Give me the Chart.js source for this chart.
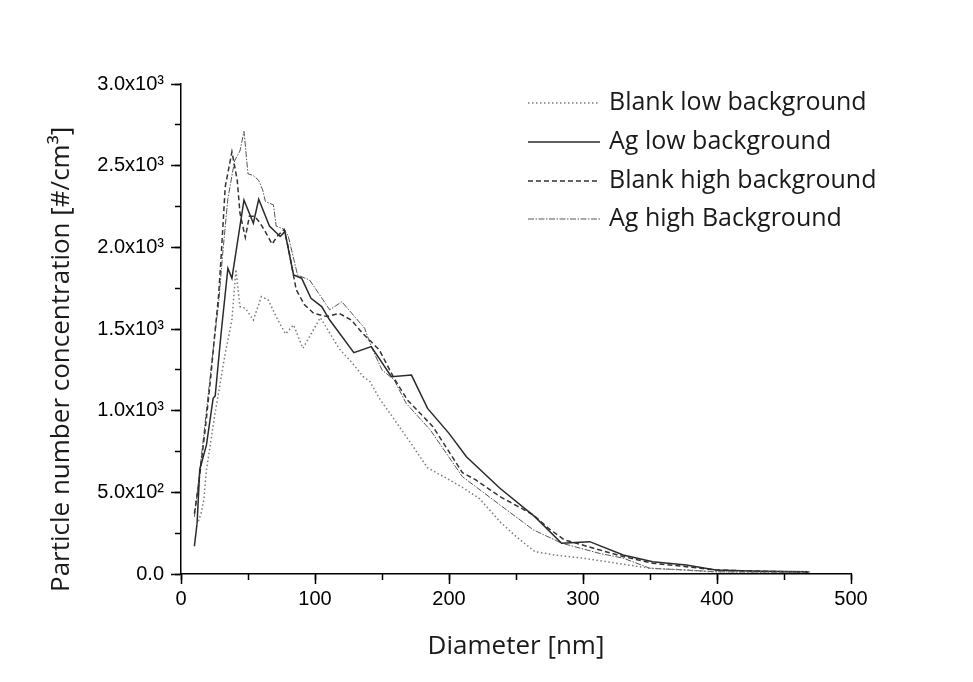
<!DOCTYPE html>
<html>
<head>
<meta charset="utf-8">
<script src="https://cdn.jsdelivr.net/npm/chart.js@4"></script>
<style>
  body { margin: 0; background: #fff; }
</style>
</head>
<body>
<canvas id="psd" width="973" height="682"></canvas>
<script>
// series names
var seriesNames = ["Blank low background", "Ag low background", "Blank high background", "Ag high Background"];

// Blank low background (dotted)
var blankLowX = [12, 15, 17, 19, 22, 25, 28, 33, 38, 41, 44, 48, 54, 60, 65, 72, 78, 84, 91, 104, 118, 128, 136, 141, 148, 160, 172, 184, 196, 210, 223, 238, 250, 264, 280, 300, 325, 350, 375, 397, 420, 445, 469];
var blankLowY = [300, 372, 453, 637, 800, 963, 1107, 1351, 1555, 1865, 1637, 1627, 1555, 1698, 1678, 1560, 1470, 1525, 1382, 1570, 1380, 1290, 1208, 1178, 1076, 936, 795, 650, 596, 530, 460, 320, 230, 137, 115, 97, 66, 35, 25, 14, 12, 10, 12];

// Ag low background (solid)
var agLowX = [10, 12, 14, 19, 24, 25.5, 30, 35, 38, 47, 54, 58, 66, 74, 77.5, 84, 90, 97, 105, 111, 129, 142, 157, 172, 184, 200, 213, 238, 264, 284, 305, 330, 352, 377, 399, 425, 450, 469];
var agLowY = [170, 310, 640, 790, 1076, 1090, 1480, 1872, 1810, 2290, 2148, 2294, 2130, 2066, 2096, 1831, 1811, 1688, 1637, 1555, 1355, 1392, 1208, 1218, 1014, 861, 718, 525, 351, 188, 198, 116, 75, 55, 24, 18, 15, 14];

// Blank high background (dashed)
var blankHighX = [10, 13, 18, 22, 25, 28, 30, 33, 38, 42, 44, 48, 51, 55, 59, 64, 68, 72, 77, 80, 86, 92, 99, 109, 118, 127, 136, 148, 159, 169, 188, 210, 220, 238, 263, 274, 286, 297, 312, 330, 352, 377, 399, 425, 450, 469];
var blankHighY = [370, 540, 880, 1190, 1450, 1700, 1950, 2370, 2585, 2410, 2210, 2060, 2190, 2190, 2150, 2080, 2020, 2070, 2110, 2000, 1740, 1650, 1596, 1576, 1596, 1555, 1470, 1372, 1198, 1065, 902, 621, 576, 474, 362, 281, 209, 184, 148, 107, 66, 45, 25, 18, 14, 12];

// Ag high Background (dash-dot)
var agHighX = [10, 13, 17, 21, 25, 28, 31, 35, 40, 44, 47, 50, 54, 58, 61, 63, 69, 71, 77, 80, 87, 96, 111, 120, 137, 142, 150, 159, 168, 186, 210, 238, 263, 284, 312, 330, 350, 375, 399, 425, 450, 469];
var agHighY = [350, 560, 850, 1150, 1450, 1650, 1950, 2300, 2530, 2590, 2710, 2450, 2440, 2410, 2350, 2280, 2260, 2130, 2110, 2070, 1830, 1800, 1617, 1667, 1505, 1392, 1249, 1190, 1045, 882, 596, 423, 270, 189, 127, 97, 35, 25, 14, 12, 12, 10];

// y tick labels
var yTickLabels = {0: "0.0", 500: "5.0x10²", 1000: "1.0x10³", 1500: "1.5x10³", 2000: "2.0x10³", 2500: "2.5x10³", 3000: "3.0x10³"};

function toPoints(xs, ys) {
  return xs.map(function (x, i) { return { x: x, y: ys[i] }; });
}

var titleFont = { family: "'Open Sans', 'Noto Sans', sans-serif", size: 26 };
var tickFont = { family: "'Liberation Sans', Arial, sans-serif", size: 20 };

// legend drawn inside the plot, top right
var insideLegend = {
  id: "insideLegend",
  afterDraw: function (chart) {
    var ctx = chart.ctx;
    var area = chart.chartArea;
    var rows = [19, 58, 97, 135];
    ctx.save();
    ctx.font = "25px 'Open Sans', 'Noto Sans', sans-serif";
    ctx.textBaseline = "middle";
    chart.data.datasets.forEach(function (ds, i) {
      var y = area.top + rows[i];
      ctx.beginPath();
      ctx.strokeStyle = ds.borderColor;
      ctx.lineWidth = ds.borderWidth;
      ctx.setLineDash(ds.borderDash || []);
      ctx.moveTo(area.left + 347, y);
      ctx.lineTo(area.left + 419, y);
      ctx.stroke();
      ctx.setLineDash([]);
      ctx.fillStyle = "#1a1a1a";
      ctx.fillText(ds.label, area.left + 428, y);
    });
    ctx.restore();
  }
};

new Chart("psd", {
  type: "line",
  data: {
    datasets: [
      {
        label: seriesNames[0],
        data: toPoints(blankLowX, blankLowY),
        borderColor: "#7a7a7a",
        borderWidth: 1.5,
        borderDash: [1.5, 2.5],
      },
      {
        label: seriesNames[1],
        data: toPoints(agLowX, agLowY),
        borderColor: "#2a2a2a",
        borderWidth: 1.5,
      },
      {
        label: seriesNames[2],
        data: toPoints(blankHighX, blankHighY),
        borderColor: "#333333",
        borderWidth: 1.5,
        borderDash: [5, 3],
      },
      {
        label: seriesNames[3],
        data: toPoints(agHighX, agHighY),
        borderColor: "#555555",
        borderWidth: 1,
        borderDash: [6, 1.5, 1.5, 1.5],
      },
    ],
  },
  options: {
    responsive: false,
    animation: false,
    events: [],
    elements: { point: { radius: 0 }, line: { tension: 0, fill: false } },
    layout: { padding: { left: 0, top: 84, right: 122, bottom: 0 } },
    plugins: { legend: { display: false }, tooltip: { enabled: false } },
    scales: {
      x: {
        type: "linear",
        position: "bottom",
        min: 0,
        max: 500,
        afterFit: function (s) { s.height = 108; },
        border: { display: true, color: "#000", width: 1.5 },
        grid: { drawOnChartArea: false, drawTicks: true, tickLength: 10, tickColor: "#000", tickWidth: 1.5 },
        ticks: { stepSize: 100, color: "#000", font: tickFont, padding: 3, maxRotation: 0 },
        title: { display: true, text: "Diameter [nm]", color: "#1a1a1a", font: titleFont, padding: { top: 0, bottom: 20 } },
      },
      xMinor: {
        type: "linear",
        position: "bottom",
        weight: -1,
        min: 0,
        max: 500,
        afterFit: function (s) { s.height = 0; },
        border: { display: false },
        grid: { drawOnChartArea: false, drawTicks: true, tickLength: 6, tickColor: "#000", tickWidth: 1.5 },
        ticks: { stepSize: 50, display: false },
      },
      y: {
        type: "linear",
        position: "left",
        min: 0,
        max: 3000,
        afterFit: function (s) { s.width = 181; },
        border: { display: true, color: "#000", width: 1.5 },
        grid: { drawOnChartArea: false, drawTicks: true, tickLength: 10, tickColor: "#000", tickWidth: 1.5 },
        ticks: {
          stepSize: 500,
          color: "#000",
          font: tickFont,
          padding: 7,
          callback: function (v) { return yTickLabels[v]; },
        },
        title: {
          display: true,
          text: "Particle number concentration [#/cm³]         ",
          color: "#1a1a1a",
          font: titleFont,
          padding: { top: 46, bottom: 0 },
        },
      },
      yMinor: {
        type: "linear",
        position: "left",
        weight: -1,
        min: 0,
        max: 3000,
        afterFit: function (s) { s.width = 0; },
        border: { display: false },
        grid: { drawOnChartArea: false, drawTicks: true, tickLength: 6, tickColor: "#000", tickWidth: 1.5 },
        ticks: { stepSize: 250, display: false },
      },
    },
  },
  plugins: [insideLegend],
});
</script>
</body>
</html>
